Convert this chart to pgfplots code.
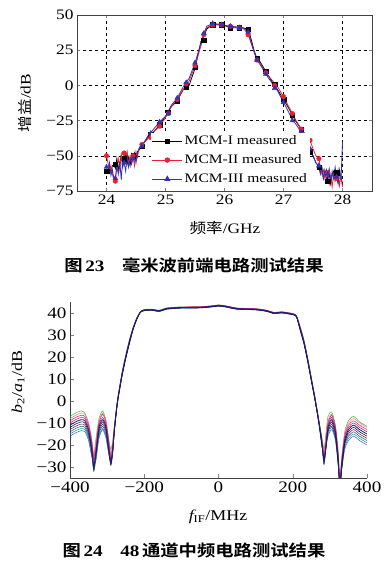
\documentclass[border=0pt]{standalone}
\usepackage{pgfplots}
\pgfplotsset{compat=1.18}
\usepackage{pgfplotstable}
\usepackage{fontspec}
\setmainfont{Liberation Serif}[FakeStretch=1.2]
\newfontfamily\cjk{Noto Sans CJK SC}[FakeStretch=1.15]
\newfontfamily\cjkb{Noto Sans CJK SC Bold}[FakeStretch=1.15]
\definecolor{mred}{RGB}{235,30,50}
\definecolor{mblue}{RGB}{50,50,185}

\pgfplotstableread{
x c1 c2 c3 c4 c5 c6 c7 c8 c9 c10
-400 -11 -9 -7 -10 -12 -15 -13 -8 -14 -16
-385 -9.5 -7.5 -5.5 -8.5 -10.5 -13.5 -11.5 -6.5 -12.5 -14.5
-370 -8.5 -6.5 -4.5 -7.5 -9.5 -12.5 -10.5 -5.5 -11.5 -13.5
-360 -9 -7 -5.5 -8 -10 -13 -11 -6 -12 -14
-350 -13 -11 -10 -12 -14 -17 -15 -10 -16 -18
-342 -21 -18 -17 -19 -22 -24 -21 -17 -23 -25
-336 -31 -26 -25 -29 -30 -29 -27 -24 -32 -28
-330 -23 -20 -17 -22 -24 -25 -23 -18 -26 -27
-322 -12 -10 -8 -11 -13 -16 -14 -9 -15 -17
-312 -8.5 -6 -4.5 -7.5 -9.5 -12.5 -10.5 -5.5 -11.5 -13
-303 -12 -10 -9 -11 -13 -16 -14 -9 -15 -17
-296 -21 -18 -17 -19 -22 -23 -21 -17 -23 -24
-290 -29 -25 -22 -27 -28 -26 -27 -24 -29 -28
-285 -23 -20 -18 -22 -23 -22 -22 -19 -24 -23
-280 -12 -11 -10 -12 -13 -13 -12 -11 -13 -13
-272 0 0.5 1 0 -0.5 -1 -0.5 0.5 -0.5 -1
-260 12 12.5 13 12 11.5 11 11.5 12.5 11.5 11
-250 20 20.5 21 20 19.5 19 19.5 20.5 19.5 19
-240 27 27.5 28 27 26.5 26 26.5 27.5 26.5 26
-230 33 33.3 33.6 33 32.7 32.4 32.7 33.3 32.7 32.4
-220 37.5 37.7 37.9 37.5 37.3 37.1 37.3 37.7 37.3 37.1
-210 40.5 40.6 40.7 40.5 40.4 40.3 40.4 40.6 40.4 40.3
-200 41.3 41.5 41.6 41.4 41.2 41.0 41.1 41.5 41.1 41.0
-180 41.5 41.7 41.8 41.6 41.4 41.2 41.3 41.7 41.3 41.2
-160 41 41.2 41.3 41.1 40.9 40.7 40.8 41.2 40.8 40.7
-140 42 42.2 42.3 42.1 41.9 41.7 41.8 42.2 41.8 41.7
-120 42.3 42.5 42.6 42.4 42.2 42.0 42.1 42.5 42.1 42.0
-100 42.5 42.7 42.8 42.6 42.4 42.2 42.3 42.7 42.3 42.2
-50 42.6 42.8 42.9 42.7 42.5 42.3 42.4 42.8 42.4 42.3
-20 43 43.2 43.3 43.1 42.9 42.7 42.8 43.2 42.8 42.7
0 43.4 43.6 43.7 43.5 43.3 43.1 43.2 43.6 43.2 43.1
20 43 43.2 43.3 43.1 42.9 42.7 42.8 43.2 42.8 42.7
50 42 42.2 42.3 42.1 41.9 41.7 41.8 42.2 41.8 41.7
100 41.7 41.9 42.0 41.8 41.6 41.4 41.5 41.9 41.5 41.4
130 41 41.2 41.3 41.1 40.9 40.7 40.8 41.2 40.8 40.7
150 40 40.2 40.3 40.1 39.9 39.7 39.8 40.2 39.8 39.7
170 40.3 40.5 40.6 40.4 40.2 40.0 40.1 40.5 40.1 40.0
200 39.5 39.7 39.8 39.6 39.4 39.2 39.3 39.7 39.3 39.2
210 38.5 38.7 38.8 38.6 38.4 38.2 38.3 38.7 38.3 38.2
220 33 33.5 34 33 32.5 32 32.5 33.5 32.5 32
230 27 27.5 28 27 26.5 26 26.5 27.5 26.5 26
240 19 19.5 20 19 18.5 18 18.5 19.5 18.5 18
250 10 10.5 11 10 9.5 9 9.5 10.5 9.5 9
260 1 1.5 2 1 0.5 0 0.5 1.5 0.5 0
270 -9 -8.5 -8 -9 -9.5 -10 -9.5 -8.5 -9.5 -10
278 -18 -17 -16 -18 -19 -20 -19 -17 -19 -20
284 -28 -24 -22 -26 -27 -25 -27 -23 -29 -26
288 -23 -20 -17 -22 -23 -22 -23 -18 -24 -23
295 -12 -10 -7 -11 -13 -15 -14 -9 -14 -16
305 -8.5 -6.5 -5 -7.5 -9.5 -12 -10.5 -6 -11.5 -13
315 -14 -12 -11 -13 -15 -17 -16 -12 -17 -18
322 -26 -23 -22 -25 -27 -28 -26 -23 -28 -29
327 -40 -36 -34 -38 -39 -37 -38 -35 -40 -36
332 -29 -27 -25 -28 -30 -31 -29 -26 -31 -31
340 -18 -16 -14 -17 -19 -21 -19 -15 -20 -22
350 -13 -11 -9 -12 -14 -17 -15 -10 -16 -18
364 -11 -9 -7 -10 -12 -15 -13 -8 -14 -16
380 -13 -11 -9.5 -12 -14 -17 -15 -10 -16 -18
400 -15 -13 -11.5 -14 -16 -19 -17 -12 -18 -20
}\ifdata

\begin{document}
\begin{tikzpicture}[x=1bp,y=1bp]
\path (0bp,0bp) rectangle (392bp,570bp);

% ---------- Figure 23 ----------
\begin{axis}[
  at={(77bp,379bp)}, anchor=south west, scale only axis,
  width=295bp, height=176bp,
  xmin=23.5, xmax=28.5, ymin=-75, ymax=50,
  xtick={24,25,26,27,28}, xticklabels={24,25,26,27,28},
  ytick={-75,-50,-25,0,25,50}, yticklabels={−75,−50,−25,0,25,50},
  grid=major, grid style={dashed, black, line width=0.5pt},
  tick align=inside, major tick length=3bp,
  tick label style={font=\fontsize{14.5}{14.5}\selectfont},
  axis line style={line width=0.6pt, black!75},
  legend cell align=left,
  legend style={at={(0.25,0.02)}, anchor=south west, draw=none, fill=white,
    font=\fontsize{13}{13}\selectfont, row sep=4.5bp, inner sep=1bp},
  legend image code/.code={\draw[#1,mark repeat=2,mark phase=2] plot coordinates {(0bp,0bp) (15bp,0bp) (30bp,0bp)};},
]
\addplot[black, line width=0.8pt, forget plot] coordinates {
(24.00,-61) (24.025,-60) (24.05,-58) (24.075,-62) (24.1,-57) (24.125,-56) (24.15,-59) (24.175,-52) (24.2,-60) (24.225,-55) (24.25,-50) (24.275,-58) (24.3,-53) (24.325,-49) (24.35,-56) (24.375,-51) (24.4,-57) (24.425,-49) (24.45,-53) (24.475,-48) (24.5,-52) (24.525,-47) (24.55,-46) (24.6,-43) (24.7,-37) (24.8,-33) (24.9,-28) (25.0,-22) (25.1,-15) (25.2,-11) (25.3,-3) (25.4,0) (25.5,12) (25.6,31) (25.65,35) (25.7,40) (25.8,43.5) (25.9,43) (26.0,42.5) (26.1,41) (26.2,41) (26.3,41) (26.4,40) (26.45,33) (26.5,25) (26.55,19) (26.6,17) (26.7,10) (26.8,3) (26.9,-3) (27.0,-10) (27.1,-17) (27.15,-21) (27.2,-25) (27.3,-31) (27.4,-40) (27.45,-47) (27.5,-50) (27.55,-55) (27.6,-58) (27.625,-62) (27.65,-59) (27.675,-66) (27.7,-63) (27.725,-60) (27.75,-68) (27.775,-62) (27.8,-70) (27.825,-64) (27.85,-61) (27.875,-67) (27.9,-63) (27.925,-69) (27.95,-62) (27.975,-66) (28.0,-70)};
\addplot[mred, line width=0.8pt, forget plot] coordinates {
(24.00,-50) (24.025,-55) (24.05,-60) (24.075,-57) (24.1,-63) (24.125,-67) (24.15,-68) (24.175,-58) (24.2,-52) (24.225,-60) (24.25,-49) (24.275,-55) (24.3,-48) (24.325,-53) (24.35,-47) (24.375,-56) (24.4,-50) (24.425,-54) (24.45,-50) (24.475,-57) (24.5,-47) (24.525,-51) (24.55,-45) (24.6,-42) (24.7,-38) (24.8,-33) (24.9,-29) (25.0,-23) (25.1,-15) (25.2,-10) (25.3,-3) (25.4,3) (25.5,14) (25.6,28) (25.65,36) (25.7,41) (25.8,43) (25.9,43) (26.0,42.5) (26.1,42) (26.2,41.5) (26.3,41) (26.35,39) (26.4,36) (26.45,30) (26.5,24) (26.55,18) (26.6,16) (26.7,9) (26.8,4) (26.9,-1) (27.0,-8) (27.1,-16) (27.15,-20) (27.2,-24) (27.3,-31) (27.4,-36) (27.45,-39) (27.5,-45) (27.55,-50) (27.6,-52) (27.625,-58) (27.65,-63) (27.675,-60) (27.7,-66) (27.725,-61) (27.75,-62) (27.775,-70) (27.8,-64) (27.825,-72) (27.85,-63) (27.875,-68) (27.9,-66) (27.925,-60) (27.95,-71) (27.975,-64) (28.0,-72)};
\addplot[mblue, line width=0.8pt, forget plot] coordinates {
(24.00,-58) (24.025,-62) (24.05,-55) (24.075,-64) (24.1,-60) (24.125,-66) (24.15,-66) (24.175,-57) (24.2,-63) (24.225,-54) (24.25,-67) (24.275,-52) (24.3,-55) (24.325,-61) (24.35,-50) (24.375,-58) (24.4,-52) (24.425,-56) (24.45,-52) (24.475,-49) (24.5,-55) (24.525,-48) (24.55,-45) (24.6,-43) (24.7,-36) (24.8,-31) (24.9,-26) (25.0,-22) (25.1,-14) (25.2,-9) (25.3,-1) (25.4,5) (25.5,16) (25.6,30) (25.65,37) (25.7,42) (25.8,44) (25.9,43.5) (26.0,42.5) (26.1,42) (26.2,41.5) (26.3,41) (26.35,40) (26.4,38) (26.45,31) (26.5,24) (26.55,18) (26.6,15) (26.7,8) (26.8,2) (26.9,-4) (27.0,-12) (27.1,-20) (27.15,-25) (27.2,-27) (27.3,-33) (27.4,-41) (27.45,-45) (27.5,-50) (27.55,-55) (27.6,-57) (27.625,-63) (27.65,-58) (27.675,-66) (27.7,-60) (27.725,-67) (27.75,-63) (27.775,-59) (27.8,-68) (27.825,-61) (27.85,-66) (27.875,-58) (27.9,-65) (27.925,-70) (27.95,-60) (27.975,-67) (28.0,-40)};
% markers
\addplot[black, only marks, mark=square*, mark size=2.2bp, forget plot] coordinates {
(24.00,-61) (24.15,-56) (24.30,-52) (24.45,-50) (24.60,-43) (24.75,-35) (24.90,-28) (25.05,-19) (25.20,-11) (25.35,-1) (25.50,13) (25.65,32) (25.80,43) (25.95,43) (26.10,41) (26.25,41) (26.40,40) (26.55,19) (26.70,10) (26.85,1) (27.00,-10) (27.15,-21) (27.30,-31) (27.45,-47) (27.60,-58) (27.75,-68) (27.90,-62)};
\addplot[mred, only marks, mark=*, mark size=2.3bp, forget plot] coordinates {
(24.00,-50) (24.15,-68) (24.30,-48) (24.45,-50) (24.60,-42) (24.75,-37) (24.90,-29) (25.05,-20) (25.20,-10) (25.35,1) (25.50,14) (25.65,36) (25.80,43) (25.95,43) (26.10,42) (26.25,41) (26.40,36) (26.55,18) (26.70,9) (26.85,0) (27.00,-8) (27.15,-20) (27.30,-31) (27.45,-39) (27.60,-52) (27.75,-62) (27.90,-66)};
\addplot[mblue, only marks, mark=triangle*, mark size=2.8bp, forget plot] coordinates {
(24.00,-58) (24.15,-66) (24.30,-55) (24.45,-52) (24.60,-43) (24.75,-34) (24.90,-26) (25.05,-20) (25.20,-9) (25.35,2) (25.50,16) (25.65,37) (25.80,44) (25.95,43) (26.10,42) (26.25,41) (26.40,38) (26.55,18) (26.70,8) (26.85,-2) (27.00,-12) (27.15,-25) (27.30,-33) (27.45,-45) (27.60,-57) (27.75,-63) (27.90,-65)};
\addlegendimage{black, line width=0.8pt, mark=square*, mark size=2.2bp}
\addlegendentry{MCM-I measured}
\addlegendimage{mred, line width=0.8pt, mark=*, mark size=2.3bp}
\addlegendentry{MCM-II measured}
\addlegendimage{mblue, line width=0.8pt, mark=triangle*, mark size=2.8bp}
\addlegendentry{MCM-III measured}
\end{axis}
\node[rotate=90, font=\fontsize{14.5}{14.5}\selectfont] at (25bp,467bp) {{\cjk 增益}/dB};
\node[font=\fontsize{14.5}{14.5}\selectfont] at (225bp,342bp) {{\cjk 频率}/GHz};
\node[font=\fontsize{16}{16}\selectfont] at (194bp,305bp) {{\cjkb 图}\,\textbf{23}\hspace{1.1em}{\cjkb 毫米波前端电路测试结果}};

% ---------- Figure 24 ----------
\begin{axis}[
  at={(70bp,92bp)}, anchor=south west, scale only axis,
  width=297bp, height=176bp,
  xmin=-400, xmax=400, ymin=-35, ymax=45,
  xtick={-400,-200,0,200,400}, xticklabels={−400,−200,0,200,400},
  ytick={-30,-20,...,40}, yticklabels={−30,−20,−10,0,10,20,30,40},
  axis lines=left, axis line style={-, line width=0.6pt, black!75},
  tick align=inside, major tick length=4bp,
  tick label style={font=\fontsize{16}{16}\selectfont},
  every axis plot/.append style={line width=0.5pt, smooth, tension=0.4},
]
\addplot[color={rgb,1:red,0.2;green,0.75;blue,0.2}] table[x=x,y=c3] {\ifdata};
\addplot[color={rgb,1:red,1;green,0.45;blue,0.65}] table[x=x,y=c8] {\ifdata};
\addplot[color={rgb,1:red,0;green,0.6;blue,0.65}] table[x=x,y=c6] {\ifdata};
\addplot[color={rgb,1:red,0.3;green,0.35;blue,0.9}] table[x=x,y=c10] {\ifdata};
\addplot[color={rgb,1:red,0.9;green,0.1;blue,0.25}] table[x=x,y=c2] {\ifdata};
\addplot[color={rgb,1:red,0;green,0.4;blue,0.2}] table[x=x,y=c9] {\ifdata};
\addplot[color={rgb,1:red,0.8;green,0;blue,0.6}] table[x=x,y=c4] {\ifdata};
\addplot[color={rgb,1:red,0.5;green,0;blue,0.55}] table[x=x,y=c7] {\ifdata};
\addplot[color=black] table[x=x,y=c5] {\ifdata};
\addplot[color={rgb,1:red,0.12;green,0.12;blue,0.5}, line width=0.8pt] table[x=x,y=c1] {\ifdata};
\end{axis}
\node[rotate=90, font=\fontsize{15}{15}\selectfont] at (18bp,188bp) {{\itshape b}\textsubscript{2}/{\itshape a}\textsubscript{1}/dB};
\node[font=\fontsize{15}{15}\selectfont] at (218bp,53bp) {{\itshape f}\textsubscript{IF}/MHz};
\node[font=\fontsize{16}{16}\selectfont] at (194bp,20bp) {{\cjkb 图}\,\textbf{24}\hspace{1.1em}\textbf{48}\,{\cjkb 通道中频电路测试结果}};
\end{tikzpicture}
\end{document}
